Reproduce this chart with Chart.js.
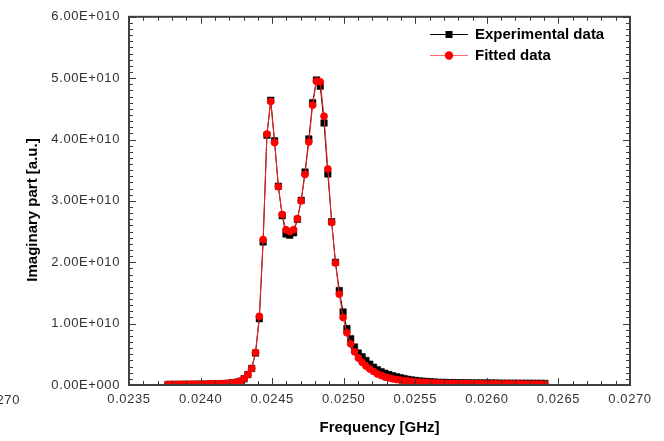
<!DOCTYPE html>
<html>
<head>
<meta charset="utf-8">
<script src="https://cdn.jsdelivr.net/npm/chart.js@4.4.1/dist/chart.umd.min.js"></script>
<style>
  html, body { margin: 0; padding: 0; background: #ffffff; }
  #wrap { width: 664px; height: 441px; position: relative; }
</style>
</head>
<body>
<div id="wrap"><canvas id="c" width="664" height="441"></canvas></div>
<script>
// ---- data (frequency in GHz, values in units of 1e10 a.u.) ----
const frequency = [
  0.0237720, 0.0237986, 0.0238252, 0.0238518, 0.0238784, 0.0239050, 0.0239316, 0.0239582, 0.0239848, 0.0240114,
  0.0240380, 0.0240646, 0.0240912, 0.0241178, 0.0241444, 0.0241710, 0.0241976, 0.0242242, 0.0242508, 0.0242774,
  0.0243040, 0.0243306, 0.0243572, 0.0243838, 0.0244104, 0.0244370, 0.0244636, 0.0244902, 0.0245168, 0.0245434,
  0.0245700, 0.0245966, 0.0246232, 0.0246498, 0.0246764, 0.0247030, 0.0247296, 0.0247562, 0.0247828, 0.0248094,
  0.0248360, 0.0248626, 0.0248892, 0.0249158, 0.0249424, 0.0249690, 0.0249956, 0.0250222, 0.0250488, 0.0250754,
  0.0251020, 0.0251286, 0.0251552, 0.0251818, 0.0252084, 0.0252350, 0.0252616, 0.0252882, 0.0253148, 0.0253414,
  0.0253680, 0.0253946, 0.0254212, 0.0254478, 0.0254744, 0.0255010, 0.0255276, 0.0255542, 0.0255808, 0.0256074,
  0.0256340, 0.0256606, 0.0256872, 0.0257138, 0.0257404, 0.0257670, 0.0257936, 0.0258202, 0.0258468, 0.0258734,
  0.0259000, 0.0259266, 0.0259532, 0.0259798, 0.0260064, 0.0260330, 0.0260596, 0.0260862, 0.0261128, 0.0261394,
  0.0261660, 0.0261926, 0.0262192, 0.0262458, 0.0262724, 0.0262990, 0.0263256, 0.0263522, 0.0263788, 0.0264054
];
const experimental = [
  0.008, 0.008, 0.009, 0.009, 0.010, 0.010, 0.011, 0.011, 0.012, 0.013,
  0.014, 0.015, 0.016, 0.018, 0.020, 0.023, 0.030, 0.036, 0.045, 0.062,
  0.10, 0.17, 0.27, 0.52, 1.08, 2.33, 4.07, 4.64, 3.98, 3.24,
  2.76, 2.46, 2.44, 2.48, 2.70, 3.01, 3.47, 4.01, 4.60, 4.97,
  4.87, 4.27, 3.44, 2.66, 2.00, 1.54, 1.19, 0.92, 0.755, 0.62,
  0.52, 0.46, 0.40, 0.34, 0.29, 0.25, 0.215, 0.19, 0.17, 0.152,
  0.135, 0.12, 0.105, 0.092, 0.082, 0.074, 0.067, 0.061, 0.056, 0.051,
  0.047, 0.044, 0.042, 0.040, 0.038, 0.037, 0.036, 0.035, 0.034, 0.034,
  0.033, 0.033, 0.032, 0.032, 0.031, 0.031, 0.031, 0.030, 0.030, 0.030,
  0.029, 0.029, 0.029, 0.028, 0.028, 0.028, 0.027, 0.027, 0.026, 0.026
];
const fitted = [
  0.010, 0.010, 0.010, 0.011, 0.011, 0.012, 0.012, 0.013, 0.013, 0.014,
  0.015, 0.016, 0.017, 0.019, 0.021, 0.024, 0.028, 0.035, 0.045, 0.062,
  0.10, 0.17, 0.27, 0.53, 1.12, 2.37, 4.09, 4.62, 3.95, 3.23,
  2.78, 2.53, 2.50, 2.53, 2.71, 3.00, 3.43, 3.96, 4.56, 4.95,
  4.94, 4.38, 3.52, 2.65, 1.99, 1.48, 1.10, 0.85, 0.67, 0.54,
  0.44, 0.37, 0.31, 0.26, 0.22, 0.18, 0.155, 0.13, 0.115, 0.10,
  0.09, 0.08, 0.072, 0.065, 0.058, 0.052, 0.047, 0.043, 0.039, 0.036,
  0.033, 0.031, 0.029, 0.027, 0.026, 0.025, 0.024, 0.023, 0.022, 0.021,
  0.020, 0.020, 0.019, 0.019, 0.018, 0.018, 0.018, 0.017, 0.017, 0.017,
  0.016, 0.016, 0.016, 0.015, 0.015, 0.015, 0.015, 0.014, 0.014, 0.014
];
const VALUE_UNIT = 1e10;
const seriesNames = ['Experimental data', 'Fitted data'];
const xTitle = 'Frequency [GHz]';
const yTitle = 'Imaginary part [a.u.]';
const X_MIN = 0.0235, X_MAX = 0.0270, X_STEP = 0.0005, X_MINOR = 0.0001;
const Y_MIN = 0, Y_MAX = 6e10, Y_STEP = 1e10, Y_MINOR = 1e9;

const FONT = "'Liberation Sans', Arial, Helvetica, sans-serif";
const toPts = arr => arr.map((v, i) => ({ x: frequency[i], y: v * VALUE_UNIT }));

function fmtY(v) {
  if (v === 0) return '0.00E+000';
  const m = v / 1e10;
  return m.toFixed(2) + 'E+010';
}

const decor = {
  id: 'decor',
  beforeDraw(chart) {
    chart.ctx.letterSpacing = '0.6px';
  },
  afterDatasetsDraw(chart) {
    const { ctx, chartArea: a, scales: { x, y } } = chart;
    ctx.save();
    ctx.letterSpacing = '0px';
    ctx.strokeStyle = '#3a3a3a';
    ctx.lineWidth = 1;
    ctx.beginPath();
    const nx = Math.round((X_MAX - X_MIN) / X_MINOR);
    for (let k = 0; k <= nx; k++) {
      const px = Math.round(x.getPixelForValue(X_MIN + k * X_MINOR)) + 0.5;
      const L = (k % 5 === 0) ? 7 : 4;
      ctx.moveTo(px, a.bottom); ctx.lineTo(px, a.bottom - L);
      ctx.moveTo(px, a.top); ctx.lineTo(px, a.top + L);
    }
    const ny = Math.round((Y_MAX - Y_MIN) / Y_MINOR);
    for (let k = 0; k <= ny; k++) {
      const py = Math.round(y.getPixelForValue(Y_MIN + k * Y_MINOR)) + 0.5;
      const L = (k % 10 === 0) ? 7 : 4;
      ctx.moveTo(a.left, py); ctx.lineTo(a.left + L, py);
      ctx.moveTo(a.right, py); ctx.lineTo(a.right - L, py);
    }
    ctx.stroke();
    ctx.lineWidth = 2;
    ctx.strokeStyle = '#404040';
    ctx.strokeRect(a.left, a.top, a.right - a.left, a.bottom - a.top);
    ctx.restore();
  },
  afterDraw(chart) {
    const { ctx, chartArea: a } = chart;
    ctx.save();
    ctx.letterSpacing = '0px';
    // axis titles
    ctx.fillStyle = '#000';
    ctx.font = 'bold 15px ' + FONT;
    ctx.textAlign = 'center';
    ctx.textBaseline = 'middle';
    ctx.fillText(xTitle, (a.left + a.right) / 2, 428);
    ctx.save();
    ctx.translate(33, 210);
    ctx.rotate(-Math.PI / 2);
    ctx.fillText(yTitle, 0, 0);
    ctx.restore();
    // stray clipped label at left edge
    ctx.font = '13px ' + FONT;
    ctx.letterSpacing = '0.6px';
    ctx.fillStyle = '#333';
    ctx.textAlign = 'right';
    ctx.fillText((X_MAX).toFixed(4), 20, 400);
    ctx.letterSpacing = '0px';
    // legend
    const ds = chart.data.datasets;
    const rows = [{ d: ds[1], y: 34 }, { d: ds[0], y: 55 }];
    rows.forEach(r => {
      const d = r.d;
      ctx.strokeStyle = d.legendLine || d.borderColor;
      ctx.lineWidth = 1;
      ctx.beginPath();
      ctx.moveTo(430, r.y + 0.5); ctx.lineTo(468, r.y + 0.5);
      ctx.stroke();
      ctx.fillStyle = d.pointBackgroundColor;
      if (d.pointStyle === 'rect') {
        ctx.fillRect(449 - 3.5, r.y - 3, 7, 7);
      } else {
        ctx.beginPath(); ctx.arc(449, r.y + 0.5, 4.2, 0, Math.PI * 2); ctx.fill();
      }
      ctx.fillStyle = '#000';
      ctx.font = 'bold 15px ' + FONT;
      ctx.textAlign = 'left';
      ctx.textBaseline = 'middle';
      ctx.fillText(d.label, 475, r.y + 1);
    });
    ctx.restore();
  }
};

new Chart(document.getElementById('c'), {
  type: 'line',
  data: {
    datasets: [
      {
        label: seriesNames[1],
        data: toPts(fitted),
        borderColor: '#ff2020',
        legendLine: '#ff6a6a',
        backgroundColor: '#ff0000',
        pointBackgroundColor: '#ff0000',
        pointBorderColor: '#ff0000',
        pointStyle: 'circle',
        pointRadius: 3.4,
        pointBorderWidth: 1,
        borderWidth: 1,
        tension: 0,
        clip: 0,
        order: 1
      },
      {
        label: seriesNames[0],
        data: toPts(experimental),
        borderColor: '#000000',
        backgroundColor: '#000000',
        pointBackgroundColor: '#000000',
        pointBorderColor: '#000000',
        pointStyle: 'rect',
        pointRadius: 4.6,
        pointBorderWidth: 0.5,
        borderWidth: 1,
        tension: 0,
        clip: 0,
        order: 2
      }
    ]
  },
  options: {
    responsive: false,
    animation: false,
    events: [],
    layout: { padding: { left: 0, right: 34, top: 14, bottom: 0 } },
    scales: {
      x: {
        type: 'linear',
        min: X_MIN, max: X_MAX,
        grid: { display: false, drawTicks: false },
        border: { display: false },
        ticks: {
          stepSize: X_STEP,
          callback: v => Number(v).toFixed(4),
          font: { family: FONT, size: 13 },
          color: '#333',
          padding: 7,
          maxRotation: 0,
          autoSkip: false
        },
        afterFit: s => { s.height = 56; }
      },
      y: {
        type: 'linear',
        min: Y_MIN, max: Y_MAX,
        grid: { display: false, drawTicks: false },
        border: { display: false },
        ticks: {
          stepSize: Y_STEP,
          callback: v => fmtY(v),
          font: { family: FONT, size: 13 },
          color: '#333',
          padding: 9
        },
        afterFit: s => { s.width = 129; }
      }
    },
    plugins: {
      legend: { display: false },
      tooltip: { enabled: false }
    }
  },
  plugins: [decor]
});
</script>
</body>
</html>
